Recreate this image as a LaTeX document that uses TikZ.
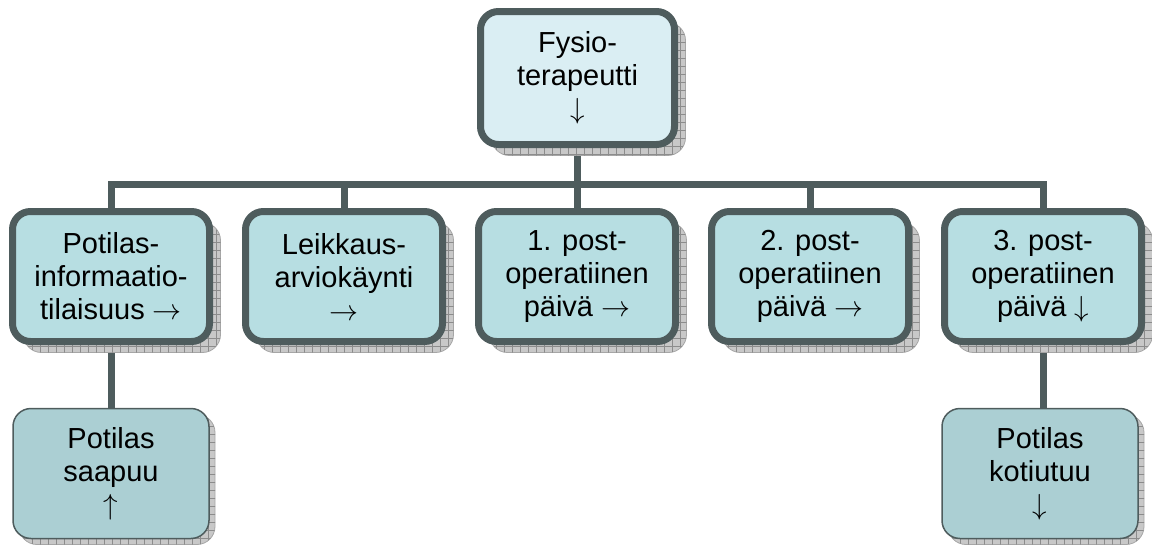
\RequirePackage{fix-cm}
\documentclass[tikz,border=0pt]{standalone}
\usepackage{fontspec}
\setmainfont{Liberation Sans}
\usetikzlibrary{shadows,patterns.meta,backgrounds}
\definecolor{edge}{HTML}{4E5C5D}
\definecolor{ctop}{HTML}{DAEEF3}
\definecolor{cmid}{HTML}{B7DEE2}
\definecolor{cbot}{HTML}{ABCFD3}
\definecolor{shd}{HTML}{C8C8C8}
\newcommand{\ra}{$\rightarrow$}
\newcommand{\da}{$\downarrow$}
\newcommand{\ua}{$\uparrow$}
\tikzset{
  shadowstyle/.style={general shadow={shadow xshift=#1, shadow yshift=-#1,
      fill=shd, draw=gray!70, line width=0.8pt,
      postaction={pattern={Hatch[angle=0,distance=8pt,line width=0.5pt]}, pattern color=gray!90}}},
  boxbase/.style={rounded corners=18pt, align=center, inner sep=0pt,
      font=\fontsize{29}{33}\selectfont},
  topbox/.style={boxbase, shadowstyle=11pt, draw=edge, line width=7pt, fill=ctop,
      minimum width=194pt, minimum height=133pt},
  midbox/.style={boxbase, shadowstyle=11pt, draw=edge, line width=7pt, fill=cmid,
      minimum width=197pt, minimum height=130pt},
  botbox/.style={boxbase, shadowstyle=6pt, draw=edge, line width=1.5pt, fill=cbot,
      minimum width=196pt, minimum height=130pt},
  conn/.style={draw=edge, line width=7pt}
}
\begin{document}
\begin{tikzpicture}[x=1pt,y=-1pt]
\useasboundingbox (0,0) rectangle (1152,546);
% nodes
\node[topbox] (top) at (577.5,78) {Fysio-\\terapeutti\\\da};
\node[midbox] (n1) at (111,276.5) {Potilas-\\informaatio-\\tilaisuus \ra};
\node[midbox] (n2) at (344,276.5) {Leikkaus-\\arviokäynti\\\ra};
\node[midbox] (n3) at (577,276.5) {1. post-\\operatiinen\\päivä \ra};
\node[midbox] (n4) at (810,276.5) {2. post-\\operatiinen\\päivä \ra};
\node[midbox] (n5) at (1043,276.5) {3. post-\\operatiinen\\päivä \da};
\node[botbox] (m1) at (111,473.5) {Potilas\\saapuu\\\ua};
\node[botbox] (m2) at (1040,473.5) {Potilas\\kotiutuu\\\da};
\coordinate (bar) at (0,184);
% connectors
\begin{scope}[on background layer]
\draw[conn] (top.center) -- (top |- bar);
\draw[conn, line cap=rect] (n1 |- bar) -- (n5 |- bar);
\foreach \n in {n1,n2,n3,n4,n5} \draw[conn] (\n |- bar) -- (\n.center);
\draw[conn] (n1.center) -- (m1.center);
\draw[conn] (n5.center) -- (n5 |- m1.center);
\end{scope}
\end{tikzpicture}
\end{document}
